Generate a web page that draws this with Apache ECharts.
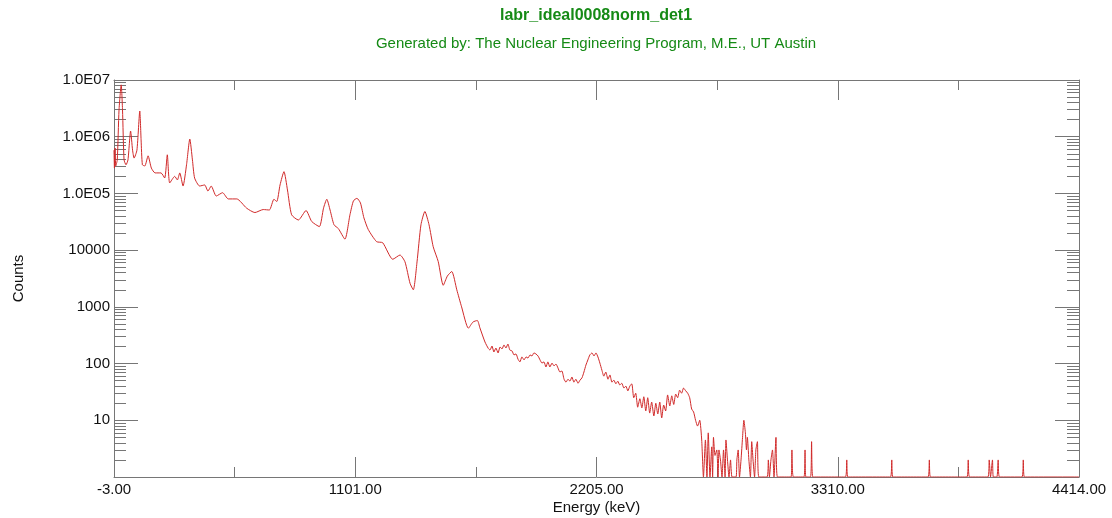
<!DOCTYPE html>
<html>
<head>
<meta charset="utf-8">
<script src="https://cdn.jsdelivr.net/npm/echarts@6/dist/echarts.min.js"></script>
<style>html,body{margin:0;padding:0;background:#fff}#c{width:1112px;height:518px}</style>
</head>
<body>
<div id="c"></div>
<script>
// ---- data ----
const energy = [
  -3, -1, 2, 5, 12, 20, 30, 36, 43, 52, 61, 73, 82, 89, 102, 115, 121, 127, 138, 153,
  168, 185, 212, 229, 241, 252, 275, 287, 298, 313, 329, 344, 356, 366, 389, 412, 427, 442, 465, 494,
  520, 559, 604, 642, 680, 708, 729, 742, 757, 775, 791, 810, 841, 876, 902, 937, 956, 971, 986, 1004,
  1024, 1054, 1077, 1093, 1109, 1125, 1141, 1161, 1199, 1227, 1273, 1306, 1329, 1352, 1367, 1384, 1402, 1420, 1439, 1458,
  1481, 1504, 1523, 1543, 1566, 1588, 1619, 1640, 1660, 1672, 1695, 1710,
  1718, 1727, 1736, 1745, 1755, 1764, 1773, 1782, 1791, 1800,
  1809, 1819, 1828, 1837, 1846, 1855, 1864, 1874, 1883, 1892,
  1901, 1910, 1919, 1928, 1938, 1947, 1956, 1965, 1974, 1983,
  1992, 2002, 2011, 2020, 2029, 2038, 2047, 2057, 2066, 2075,
  2084, 2093, 2102, 2111, 2121, 2130, 2139, 2148, 2157, 2166,
  2175, 2185, 2194, 2203, 2212, 2221, 2230, 2239, 2248, 2258,
  2267, 2276, 2285, 2294, 2303, 2312, 2321, 2331, 2340, 2349,
  2358, 2367, 2376, 2385, 2394, 2404, 2413, 2422, 2431, 2440,
  2449, 2458, 2468, 2477, 2486, 2495, 2504, 2513, 2522, 2531,
  2541, 2550, 2559, 2568, 2577, 2586, 2595, 2604, 2614, 2623,
  2632, 2641, 2650, 2659, 2668, 2678, 2687,
  2695, 2704, 2711, 2717, 2725, 2733, 2737, 2741, 2748, 2756,
  2762, 2766, 2773, 2780, 2787, 2794, 2798, 2805, 2812, 2819,
  2826, 2844, 2848, 2854, 2860, 2867, 2874, 2880, 2887, 2892,
  2896, 2903, 2910, 2916, 2922, 2929, 2935, 2942, 2949, 2986,
  2992, 2997, 3004, 3011, 3018, 3027, 3034, 3096, 3100, 3107,
  3155, 3160, 3164, 3185, 3190, 3196, 3345, 3351, 3356, 3551,
  3557, 3562, 3723, 3729, 3734, 3901, 3907, 3913, 3997, 4003,
  4009, 4018, 4022, 4038, 4044, 4050, 4153, 4159, 4164, 4414
];
const counts = [
  5.8e5, 2.8e5, 6.3e5, 3.05e5, 3.9e5, 2.96e6, 8.2e6, 2.96e6, 3.9e5, 3.2e5, 3.9e5, 1.26e6, 5.8e5, 4.2e5, 5.8e5, 2.84e6, 8.8e5, 3.2e5, 3.05e5, 4.6e5,
  2.8e5, 2.3e5, 2.3e5, 1.87e5, 4.8e5, 1.53e5, 2.0e5, 1.73e5, 2.3e5, 1.35e5, 3.2e5, 9.1e5, 3.9e5, 1.87e5, 1.35e5, 1.41e5, 1.1e5, 1.35e5, 9.0e4, 1.03e5,
  8.0e4, 8.0e4, 5.5e4, 4.6e4, 5.2e4, 5.1e4, 7.9e4, 7.2e4, 1.41e5, 2.42e5, 1.15e5, 4.2e4, 3.4e4, 5.0e4, 3.2e4, 2.6e4, 5.5e4, 7.9e4, 5.1e4, 2.8e4,
  2.4e4, 1.56e4, 4.2e4, 7.4e4, 8.2e4, 6.8e4, 3.7e4, 2.3e4, 1.41e4, 1.35e4, 6.9e3, 8.2e3, 6.2e3, 2.6e3, 2.0e3, 6.2e3, 2.8e4, 4.8e4, 2.8e4, 1.15e4,
  6.3e3, 2.4e3, 3.5e3, 4.2e3, 2.0e3, 1.0e3, 420, 540, 575, 424, 240, 186,
  173, 204, 160, 188, 154, 196, 181, 213, 188, 221,
  173, 167, 142, 148, 120, 107, 131, 116, 131, 125,
  142, 136, 154, 148, 136, 116, 102, 107, 87, 107,
  87, 102, 91, 98, 84, 71, 74, 53, 47, 53,
  49, 58, 47, 53, 45, 51, 56, 71, 94, 116,
  142, 154, 136, 154, 131, 102, 77, 60, 71, 53,
  63, 47, 51, 44, 49, 42, 45, 37, 40, 33,
  40, 44, 25, 30, 17, 24, 16.5, 26, 14.6, 25,
  13.4, 21, 11.9, 20, 12.9, 21, 11, 18.6, 14.6, 28,
  17.9, 27, 19, 29, 25, 34, 30, 37, 33, 30,
  25, 15.8, 14, 10, 7.9, 10, 4.5,
  0, 4.5, 0, 6, 0, 3.4, 0, 5, 2.4, 3,
  0, 3, 2, 0, 3, 0, 4.5, 2, 0, 2,
  0, 0, 2, 3, 0, 2, 5, 10, 6, 3,
  5, 2, 0, 4.2, 2, 0, 3, 4.2, 0, 0,
  2, 0, 2, 3, 0, 5, 0, 0, 3, 0,
  0, 3, 0, 0, 4.2, 0, 0, 2, 0, 0,
  2, 0, 0, 2, 0, 0, 2, 0, 0, 2,
  0, 2, 0, 0, 2, 0, 0, 2, 0, 0
];

// ---- axis ticks and labels ----
const xTickValues = [-3, 1101.25, 2205.5, 3309.75, 4414];
const xTickLabels = ['-3.00', '1101.00', '2205.00', '3310.00', '4414.00'];
const xMinorTickValues = [549.125, 1653.375, 2757.625, 3861.875];
const yTickValues = [1, 10, 100, 1000, 10000, 100000, 1000000, 10000000];
const yTickLabels = ['', '10', '100', '1000', '10000', '1.0E05', '1.0E06', '1.0E07'];
const yMinorMultipliers = [2, 3, 4, 5, 6, 7, 8, 9];
const yMinorTickValues = [];
yTickValues.slice(0, -1).forEach(d => yMinorMultipliers.forEach(m => yMinorTickValues.push(m * d)));

const AXIS_COLOR = '#767676';
const FONT = "'Liberation Sans', Arial, Helvetica, sans-serif";
const GREEN = '#158a15';

// zero counts are drawn on the bottom of the log axis (its minimum)
const seriesData = energy.map((e, i) => [e, counts[i] > 0 ? counts[i] : yTickValues[0]]);

function nearestIndex(arr, v) {
  let best = 0;
  arr.forEach((a, i) => { if (Math.abs(a - v) < Math.abs(arr[best] - v)) best = i; });
  return best;
}

const gridRect = { left: 114, right: 33, top: 80, bottom: 41, containLabel: false, outerBoundsMode: 'none' };

function tickAxis(kind, gridIndex, position, tickValues, len, showLine) {
  const base = kind === 'x'
    ? { type: 'value', min: -3, max: 4414 }
    : { type: 'log', logBase: 10, min: 1, max: 1e7 };
  return Object.assign(base, {
    gridIndex: gridIndex, position: position,
    axisLine: { show: showLine, onZero: false, lineStyle: { color: AXIS_COLOR, width: 1 } },
    axisTick: { show: true, inside: true, length: len, customValues: tickValues, lineStyle: { color: AXIS_COLOR } },
    axisLabel: { show: false },
    splitLine: { show: false }
  });
}

const xMain = tickAxis('x', 0, 'bottom', xTickValues, 20, true);
Object.assign(xMain, {
  name: 'Energy (keV)', nameLocation: 'middle', nameGap: 23, nameMoveOverlap: false,
  nameTextStyle: { fontFamily: FONT, fontSize: 15, color: '#111' },
  axisLabel: {
    show: true, customValues: xTickValues, margin: 5,
    fontFamily: FONT, fontSize: 15, color: '#111',
    formatter: v => xTickLabels[nearestIndex(xTickValues, v)]
  }
});
const yMain = tickAxis('y', 0, 'left', yTickValues, 24, true);
Object.assign(yMain, {
  name: 'Counts', nameLocation: 'middle', nameGap: 88, nameRotate: 90,
  nameTextStyle: { fontFamily: FONT, fontSize: 15, color: '#111' },
  axisLabel: {
    show: true, customValues: yTickValues, margin: 4,
    fontFamily: FONT, fontSize: 15, color: '#111',
    formatter: v => yTickLabels[Math.round(Math.log10(v))]
  }
});

const chart = echarts.init(document.getElementById('c'), null, { renderer: 'canvas' });
chart.setOption({
  animation: false,
  backgroundColor: '#ffffff',
  title: {
    text: 'labr_ideal0008norm_det1',
    subtext: 'Generated by: The Nuclear Engineering Program, M.E., UT Austin',
    left: 596,
    textAlign: 'center',
    top: 8,
    padding: 0,
    itemGap: 12,
    textStyle: { fontFamily: FONT, fontSize: 16, fontWeight: 'bold', color: GREEN },
    subtextStyle: { fontFamily: FONT, fontSize: 15, color: GREEN }
  },
  grid: [
    Object.assign({}, gridRect),
    Object.assign({}, gridRect)
  ],
  xAxis: [
    xMain,
    tickAxis('x', 0, 'top', xTickValues, 20, true),
    tickAxis('x', 1, 'bottom', xMinorTickValues, 10, false),
    tickAxis('x', 1, 'top', xMinorTickValues, 10, false)
  ],
  yAxis: [
    yMain,
    tickAxis('y', 0, 'right', yTickValues, 24, true),
    tickAxis('y', 1, 'left', yMinorTickValues, 12, false),
    tickAxis('y', 1, 'right', yMinorTickValues, 12, false)
  ],
  series: [
    {
      type: 'line',
      xAxisIndex: 0, yAxisIndex: 0,
      data: seriesData,
      showSymbol: false,
      smooth: 0.2,
      lineStyle: { color: '#d02a2a', width: 1 },
      clip: true,
      z: 5
    }
  ]
});
</script>
</body>
</html>
